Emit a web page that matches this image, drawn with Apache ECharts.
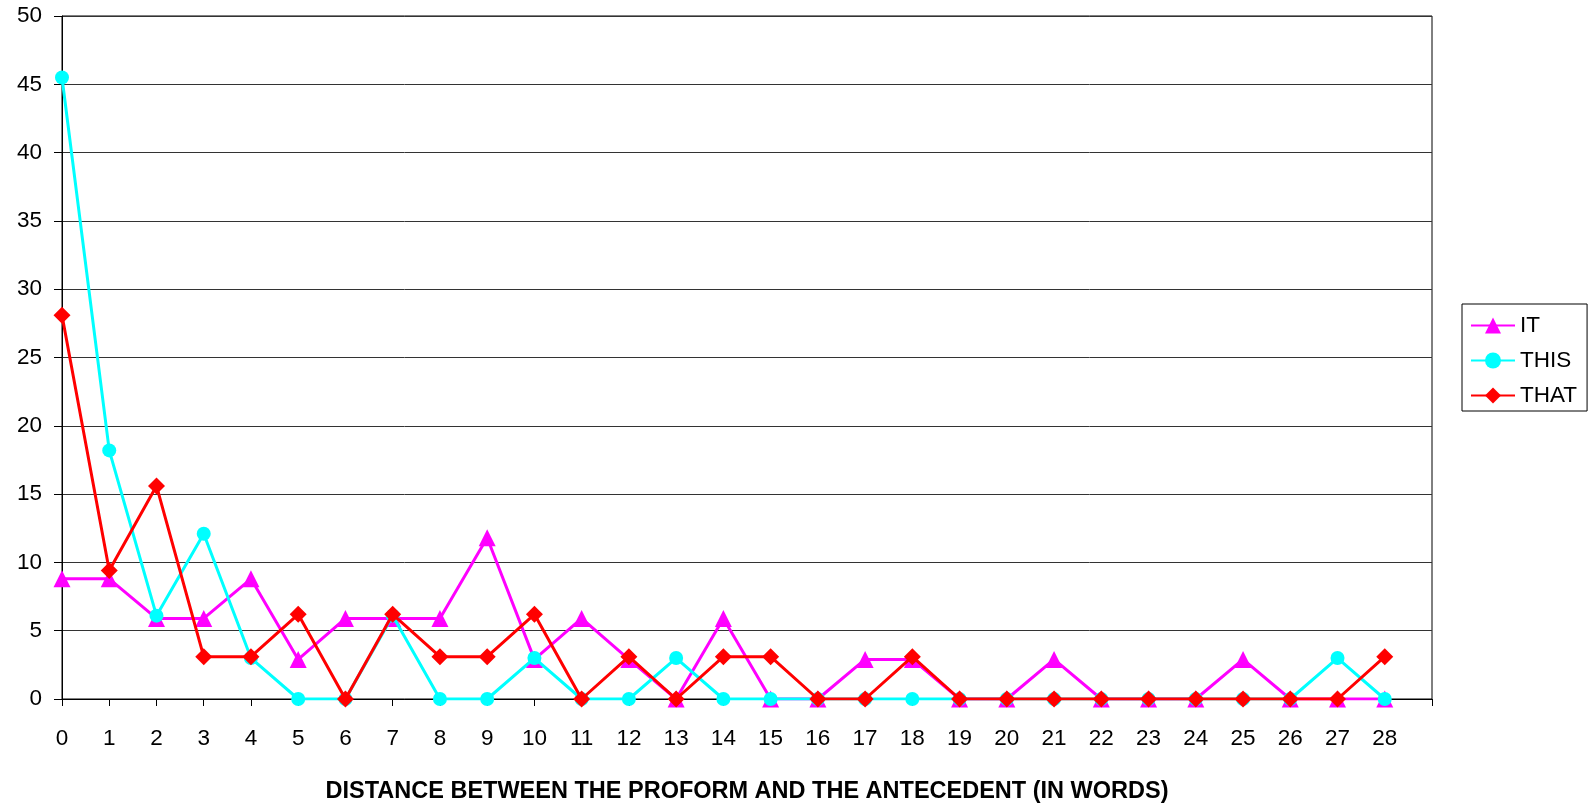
<!DOCTYPE html>
<html>
<head>
<meta charset="utf-8">
<script src="https://cdn.jsdelivr.net/npm/echarts@6/dist/echarts.min.js"></script>
<style>
html,body{margin:0;padding:0;background:#fff;}
#chart{width:1589px;height:805px;}
</style>
</head>
<body>
<div id="chart"></div>
<script>
var categories = [0,1,2,3,4,5,6,7,8,9,10,11,12,13,14,15,16,17,18,19,20,21,22,23,24,25,26,27,28];
var itValues   = [8.8,8.8,5.9,5.9,8.8,2.9,5.9,5.9,5.9,11.8,2.9,5.9,2.9,0,5.9,0,0,2.9,2.9,0,0,2.9,0,0,0,2.9,0,0,0];
var thisValues = [45.5,18.2,6.1,12.1,3.0,0,0,6.1,0,0,3.0,0,0,3.0,0,0,0,0,0,0,0,0,0,0,0,0,0,3.0,0];
var thatValues = [28.1,9.4,15.6,3.1,3.1,6.2,0,6.2,3.1,3.1,6.2,0,3.1,0,3.1,3.1,0,0,3.1,0,0,0,0,0,0,0,0,0,3.1];
var yTicks = [0,5,10,15,20,25,30,35,40,45,50];
var xTitle = 'DISTANCE BETWEEN THE PROFORM AND THE ANTECEDENT (IN WORDS)';

function pairs(vals){ return categories.map(function(c,i){ return [c, vals[i]]; }); }

var font = 'Liberation Sans, Arial, sans-serif';
var chart = echarts.init(document.getElementById('chart'));
chart.setOption({
  animation: false,
  backgroundColor: '#fff',
  grid: { left: 62, right: 157, top: 16, bottom: 106, outerBoundsMode: 'none', containLabel: false,
          show: true, borderColor: '#000', borderWidth: 1, backgroundColor: 'transparent' },
  xAxis: {
    type: 'value', min: 0, max: 29, interval: 1,
    name: xTitle, nameLocation: 'middle', nameGap: 81,
    nameTextStyle: { fontFamily: font, fontSize: 23.5, fontWeight: 'bold', color: '#000' },
    axisLine: { show: true, lineStyle: { color: '#000', width: 1 } },
    axisTick: { show: true, length: 7, lineStyle: { color: '#000' } },
    axisLabel: { margin: 28, fontFamily: font, fontSize: 22.5, color: '#000',
      formatter: function(v){ return categories.indexOf(v) >= 0 ? String(v) : ''; } },
    splitLine: { show: false }
  },
  yAxis: {
    type: 'value', min: yTicks[0], max: yTicks[yTicks.length-1], interval: 5,
    axisLine: { show: true, lineStyle: { color: '#000', width: 1 } },
    axisTick: { show: true, length: 8, lineStyle: { color: '#000' } },
    axisLabel: { margin: 20, fontFamily: font, fontSize: 22.5, color: '#000' },
    splitLine: { show: true, lineStyle: { color: '#333', width: 1 } }
  },
  legend: {
    orient: 'vertical', left: 1462, top: 304,
    backgroundColor: '#fff', borderColor: '#000', borderWidth: 1, borderRadius: 0,
    padding: [10, 10, 4, 8], itemGap: 12, itemWidth: 44, itemHeight: 20,
    textStyle: { fontFamily: font, fontSize: 22.5, color: '#000' },
    data: ['IT','THIS','THAT']
  },
  series: [
    { name: 'IT', type: 'line', data: pairs(itValues), symbol: 'triangle', symbolSize: 17,
      lineStyle: { color: '#ff00ff', width: 3 }, itemStyle: { color: '#ff00ff' }, z: 2 },
    { name: 'THIS', type: 'line', data: pairs(thisValues), symbol: 'circle', symbolSize: 14,
      lineStyle: { color: '#00ffff', width: 3 }, itemStyle: { color: '#00ffff' }, z: 3 },
    { name: 'THAT', type: 'line', data: pairs(thatValues), symbol: 'diamond', symbolSize: 17,
      lineStyle: { color: '#ff0000', width: 3 }, itemStyle: { color: '#ff0000' }, z: 4 }
  ]
});
</script>
</body>
</html>
